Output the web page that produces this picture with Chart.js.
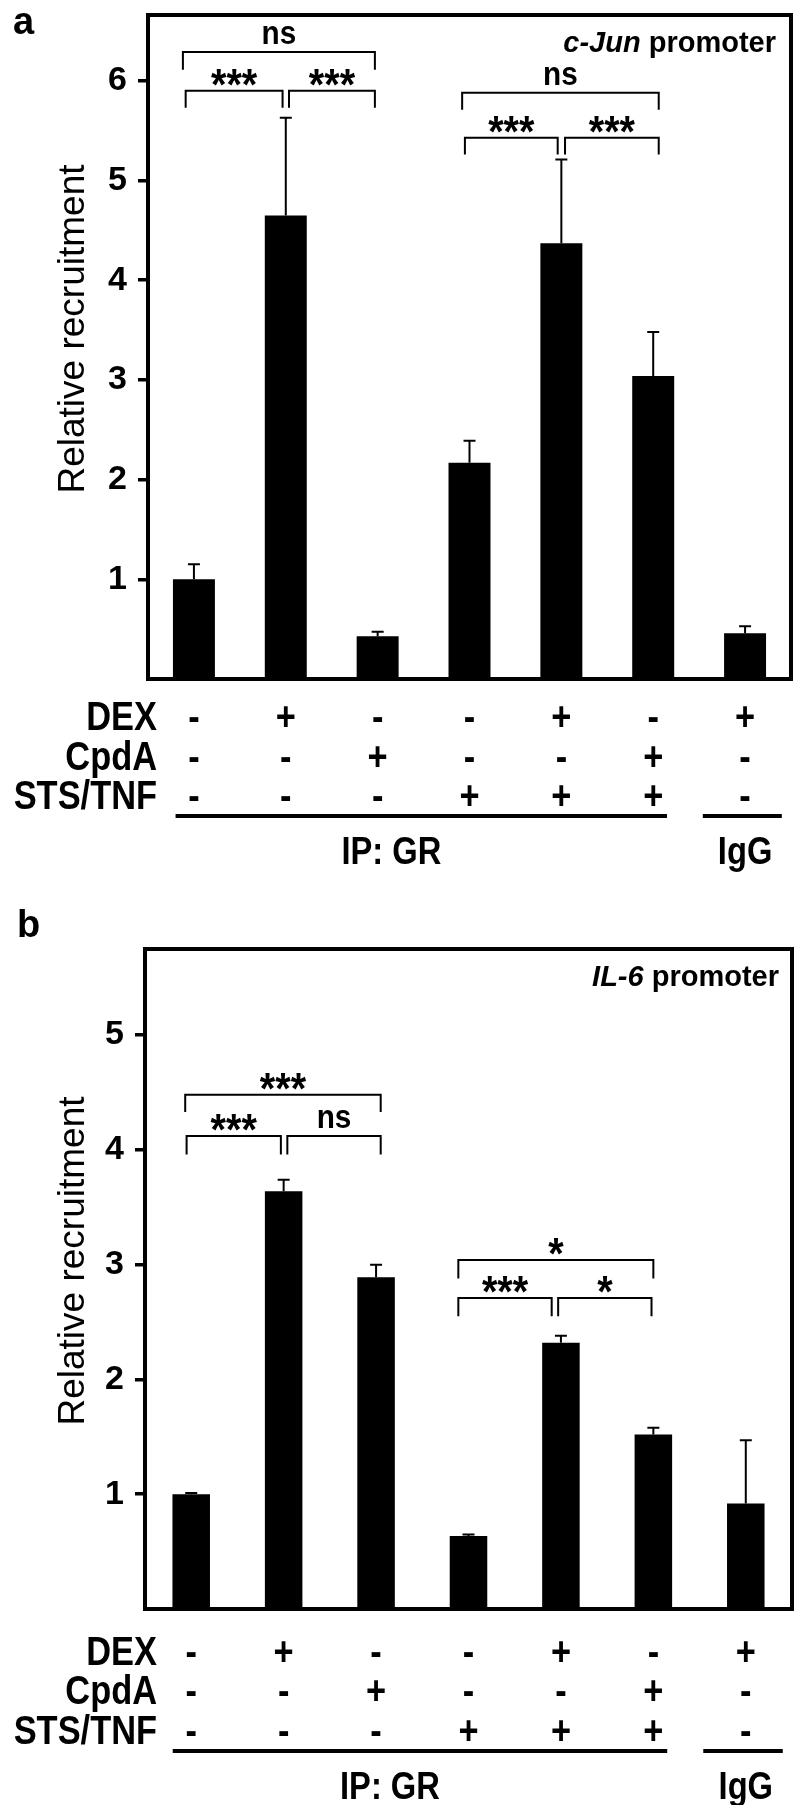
<!DOCTYPE html>
<html><head><meta charset="utf-8">
<script src="https://cdn.jsdelivr.net/npm/chart.js@4.4.1/dist/chart.umd.min.js"></script>
<style>
html,body{margin:0;padding:0;background:#fff;}
#wrap{position:relative;width:796px;height:1805px;}
canvas{display:block;position:absolute;left:0;}
</style></head><body>
<div id="wrap">
<canvas id="ca" width="796" height="905" style="top:0;width:796px;height:905px"></canvas>
<canvas id="cb" width="796" height="900" style="top:905px;width:796px;height:900px"></canvas>
</div>
<script>
// ---------- data ----------
const categories = ['GR', 'GR DEX', 'GR CpdA', 'GR STS/TNF', 'GR DEX STS/TNF', 'GR CpdA STS/TNF', 'IgG DEX'];
const rowLabels = ['DEX', 'CpdA', 'STS/TNF'];
const dexRow  = ['-', '+', '-', '-', '+', '-', '+'];
const cpdaRow = ['-', '-', '+', '-', '-', '+', '-'];
const stsRow  = ['-', '-', '-', '+', '+', '+', '-'];

const cJunMean = [1.00, 4.65, 0.43, 2.17, 4.37, 3.04, 0.46];
const cJunErr  = [0.15, 0.98, 0.045, 0.22, 0.84, 0.44, 0.07];
const cJunTicks = [1, 2, 3, 4, 5, 6];

const il6Mean = [1.00, 3.64, 2.89, 0.635, 2.32, 1.52, 0.92];
const il6Err  = [0.01, 0.10, 0.11, 0.015, 0.06, 0.06, 0.55];
const il6Ticks = [1, 2, 3, 4, 5];

// significance brackets: from/to = category index, level/leg = y values
const cJunBrackets = [
  {from: -0.12, to: 1.97, level: 6.29, leg: 6.11, label: 'ns'},
  {from: -0.09, to: 0.965, level: 5.90, leg: 5.73, label: '***'},
  {from: 1.035, to: 1.97, level: 5.90, leg: 5.73, label: '***'},
  {from: 2.92, to: 5.06, level: 5.88, leg: 5.71, label: 'ns'},
  {from: 2.95, to: 3.96, level: 5.43, leg: 5.26, label: '***'},
  {from: 4.04, to: 5.06, level: 5.43, leg: 5.26, label: '***'}
];
const il6Brackets = [
  {from: -0.065, to: 2.05, level: 4.48, leg: 4.33, label: '***'},
  {from: -0.05, to: 0.97, level: 4.12, leg: 3.96, label: '***'},
  {from: 1.04, to: 2.05, level: 4.12, leg: 3.96, label: 'ns'},
  {from: 2.89, to: 5.0, level: 3.04, leg: 2.88, label: '*'},
  {from: 2.89, to: 3.9, level: 2.71, leg: 2.55, label: '***'},
  {from: 3.97, to: 4.98, level: 2.71, leg: 2.55, label: '*'}
];

// ---------- drawing ----------
const FONT = '"Liberation Sans", Arial, Helvetica, sans-serif';

// condensed text helper
function cText(ctx, text, x, y, font, sx, align) {
  ctx.save();
  ctx.font = font;
  ctx.textAlign = align;
  ctx.translate(x, y);
  ctx.scale(sx, 1);
  ctx.fillText(text, 0, 0);
  ctx.restore();
}

const panelPlugin = {
  id: 'panel',
  afterDatasetsDraw(chart, args, o) {
    const ctx = chart.ctx, ca = chart.chartArea;
    const xs = chart.scales.x, ys = chart.scales.y;
    const meta = chart.getDatasetMeta(0);
    ctx.save();
    ctx.fillStyle = '#000';
    ctx.strokeStyle = '#000';
    ctx.textBaseline = 'alphabetic';

    // error bars (upper only)
    ctx.lineWidth = 2;
    o.mean.forEach((m, i) => {
      const bx = meta.data[i].x;
      const y0 = ys.getPixelForValue(m);
      const y1 = ys.getPixelForValue(m + o.err[i]);
      ctx.beginPath();
      ctx.moveTo(bx, y0); ctx.lineTo(bx, y1);
      ctx.moveTo(bx - 6, y1); ctx.lineTo(bx + 6, y1);
      ctx.stroke();
    });

    // frame
    ctx.lineWidth = 4;
    ctx.strokeRect(ca.left, ca.top, ca.right - ca.left, ca.bottom - ca.top);

    // brackets
    ctx.lineWidth = 2;
    o.brackets.forEach(b => {
      const x1 = xs.getPixelForValue(b.from), x2 = xs.getPixelForValue(b.to);
      const yl = ys.getPixelForValue(b.level), yg = ys.getPixelForValue(b.leg);
      ctx.beginPath();
      ctx.moveTo(x1, yg); ctx.lineTo(x1, yl); ctx.lineTo(x2, yl); ctx.lineTo(x2, yg);
      ctx.stroke();
      const star = b.label.indexOf('*') >= 0;
      const font = star ? 'bold 44px ' + FONT : 'bold 33px ' + FONT;
      ctx.font = font;
      const mt = ctx.measureText(b.label);
      const gap = star ? 5 : 8;
      cText(ctx, b.label, (x1 + x2) / 2, yl - gap - mt.actualBoundingBoxDescent, font, 0.9, 'center');
    });

    // promoter title (right aligned)
    ctx.textAlign = 'left';
    let total = 0;
    o.title.forEach(p => { ctx.font = (p.italic ? 'italic ' : '') + 'bold 29px ' + FONT; p.w = ctx.measureText(p.text).width; total += p.w; });
    let tx = ca.right - o.titleRight - total;
    o.title.forEach(p => { ctx.font = (p.italic ? 'italic ' : '') + 'bold 29px ' + FONT; ctx.fillText(p.text, tx, ca.top + 37); tx += p.w; });

    // y-axis title
    ctx.save();
    ctx.font = '37px ' + FONT;
    ctx.translate(84, (ca.top + ca.bottom) / 2 - 18);
    ctx.rotate(-Math.PI / 2);
    ctx.textAlign = 'center';
    ctx.fillText('Relative recruitment', 0, 0);
    ctx.restore();

    // panel letter
    ctx.font = 'bold 38px ' + FONT;
    ctx.textAlign = 'left';
    ctx.fillText(o.letter, o.letterX, o.letterY);

    // treatment table
    const rows = [dexRow, cpdaRow, stsRow];
    const tFont = 'bold 40px ' + FONT;
    rows.forEach((row, r) => {
      const yb = ca.bottom + o.rowOffsets[r];
      cText(ctx, rowLabels[r], 157, yb, tFont, 0.86, 'right');
      row.forEach((s, i) => cText(ctx, s, xs.getPixelForValue(i), yb, tFont, 0.86, 'center'));
    });
    ctx.lineWidth = 4;
    const ly = ca.bottom + o.lineOffset;
    ctx.beginPath();
    ctx.moveTo(xs.getPixelForValue(-0.2), ly); ctx.lineTo(xs.getPixelForValue(5.15), ly);
    ctx.moveTo(xs.getPixelForValue(5.54), ly); ctx.lineTo(xs.getPixelForValue(6.4), ly);
    ctx.stroke();
    const gFont = 'bold 38px ' + FONT;
    cText(ctx, 'IP: GR', xs.getPixelForValue(2.15), ca.bottom + o.groupOffset, gFont, 0.86, 'center');
    cText(ctx, 'IgG', xs.getPixelForValue(6), ca.bottom + o.groupOffset, gFont, 0.86, 'center');
    ctx.restore();
  }
};

function makeChart(id, mean, err, ticks, yMax, brackets, title, letter, layout) {
  return new Chart(document.getElementById(id), {
    type: 'bar',
    data: {
      labels: categories,
      datasets: [{
        data: mean,
        backgroundColor: '#000',
        borderWidth: 0,
        categoryPercentage: 1,
        barPercentage: layout.barPct
      }]
    },
    options: {
      responsive: false,
      animation: false,
      events: [],
      layout: {padding: {left: 0, top: layout.top, right: layout.right, bottom: layout.bottom}},
      plugins: {
        legend: {display: false},
        tooltip: {enabled: false},
        panel: {
          mean: mean, err: err, brackets: brackets, title: title, letter: letter,
          letterX: layout.letterX, letterY: layout.letterY, titleRight: layout.titleRight,
          rowOffsets: layout.rowOffsets, lineOffset: layout.lineOffset, groupOffset: layout.groupOffset
        }
      },
      scales: {
        x: {type: 'category', display: false, offset: true},
        y: {
          min: 0, max: yMax,
          afterBuildTicks: s => { s.ticks = ticks.map(v => ({value: v})); },
          afterFit: s => { s.width = layout.axisLeft; s.paddingTop = 0; s.paddingBottom = 0; },
          ticks: {
            color: '#000',
            padding: 11,
            font: {family: FONT, size: 34, weight: 'bold'}
          },
          grid: {drawOnChartArea: false, drawTicks: true, tickLength: 10, lineWidth: 3.5, color: '#000'},
          border: {display: false}
        }
      }
    },
    plugins: [panelPlugin]
  });
}

makeChart('ca', cJunMean, cJunErr, cJunTicks, 6.66, cJunBrackets,
  [{text: 'c-Jun', italic: true}, {text: ' promoter', italic: false}], 'a',
  {barPct: 0.457, top: 15, right: 5, bottom: 226, axisLeft: 148, letterX: 13, letterY: 34, titleRight: 15,
   rowOffsets: [51, 91, 130], lineOffset: 137, groupOffset: 185});

makeChart('cb', il6Mean, il6Err, il6Ticks, 5.75, il6Brackets,
  [{text: 'IL-6', italic: true}, {text: ' promoter', italic: false}], 'b',
  {barPct: 0.406, top: 44, right: 4, bottom: 196, axisLeft: 145, letterX: 17, letterY: 32, titleRight: 13,
   rowOffsets: [56, 95, 135], lineOffset: 142, groupOffset: 190});
</script>
</body></html>
